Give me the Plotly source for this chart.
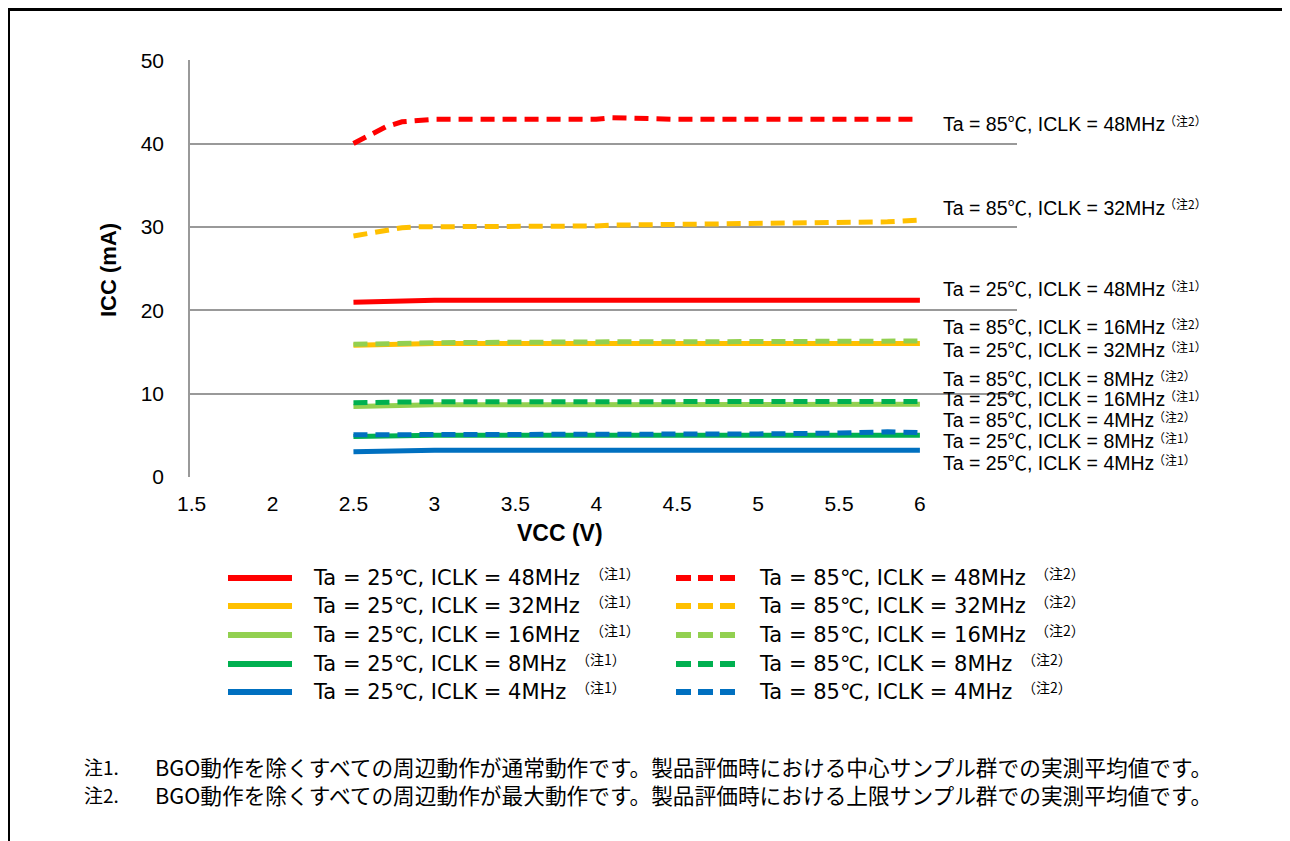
import plotly.graph_objects as go

# ---------------- data ----------------
vcc = [2.5, 2.6, 2.7, 2.8, 2.9, 3.0, 3.5, 4.0, 4.1, 4.5, 5.0, 5.5, 5.8, 6.0]

icc_25_48 = [20.95, 21.0, 21.1, 21.15, 21.2, 21.2, 21.2, 21.2, 21.2, 21.2, 21.2, 21.2, 21.2, 21.2]
icc_25_32 = [15.8, 15.85, 15.9, 15.95, 16.0, 16.0, 16.0, 16.0, 16.0, 16.0, 16.0, 16.0, 16.0, 16.0]
icc_25_16 = [8.45, 8.5, 8.55, 8.6, 8.65, 8.65, 8.65, 8.65, 8.65, 8.65, 8.7, 8.7, 8.7, 8.7]
icc_25_8 = [4.85, 4.9, 4.95, 5.0, 5.0, 5.0, 5.0, 5.0, 5.0, 5.0, 5.0, 5.0, 5.0, 5.0]
icc_25_4 = [3.0, 3.05, 3.1, 3.2, 3.2, 3.2, 3.2, 3.2, 3.2, 3.2, 3.2, 3.2, 3.2, 3.2]

icc_85_48 = [40.0, 41.0, 42.0, 42.6, 42.8, 42.9, 42.9, 42.9, 43.1, 42.9, 42.9, 42.9, 42.9, 42.9]
icc_85_32 = [28.9, 29.2, 29.6, 29.9, 30.0, 30.0, 30.1, 30.1, 30.2, 30.3, 30.3, 30.5, 30.6, 30.8]
icc_85_16 = [15.9, 15.9, 15.95, 16.0, 16.05, 16.1, 16.2, 16.2, 16.2, 16.2, 16.2, 16.2, 16.25, 16.3]
icc_85_8 = [8.9, 8.95, 9.0, 9.0, 9.0, 9.0, 9.0, 9.0, 9.0, 9.0, 9.0, 9.0, 9.0, 9.05]
icc_85_4 = [5.05, 5.05, 5.1, 5.1, 5.15, 5.15, 5.15, 5.15, 5.15, 5.15, 5.15, 5.25, 5.4, 5.3]

x_ticks = [1.5, 2, 2.5, 3, 3.5, 4, 4.5, 5, 5.5, 6]
x_ticktext = ["1.5", "2", "2.5", "3", "3.5", "4", "4.5", "5", "5.5", "6"]
y_ticks = [0, 10, 20, 30, 40, 50]

names_25 = ["Ta = 25℃, ICLK = 48MHz", "Ta = 25℃, ICLK = 32MHz", "Ta = 25℃, ICLK = 16MHz",
            "Ta = 25℃, ICLK = 8MHz", "Ta = 25℃, ICLK = 4MHz"]
names_85 = ["Ta = 85℃, ICLK = 48MHz", "Ta = 85℃, ICLK = 32MHz", "Ta = 85℃, ICLK = 16MHz",
            "Ta = 85℃, ICLK = 8MHz", "Ta = 85℃, ICLK = 4MHz"]
note_25 = "（注1）"
note_85 = "（注2）"
colors = ["#FF0000", "#FFC000", "#92D050", "#00B050", "#0070C0"]

series_25 = [icc_25_48, icc_25_32, icc_25_16, icc_25_8, icc_25_4]
series_85 = [icc_85_48, icc_85_32, icc_85_16, icc_85_8, icc_85_4]

footnotes = [("注1.", "BGO動作を除くすべての周辺動作が通常動作です。製品評価時における中心サンプル群での実測平均値です。"),
             ("注2.", "BGO動作を除くすべての周辺動作が最大動作です。製品評価時における上限サンプル群での実測平均値です。")]

# ---------------- layout helpers ----------------
# the page body adds an 8px offset; the figure is sized to fill the rest of the window
W, H = 1282, 833
ML, MR, MT, MB = 182, 273, 52, 364
PW, PH = W - ML - MR, H - MT - MB
PLOT_LEFT, PLOT_BOTTOM = 190, 477  # window pixel position of plot-area corner


def px(x):
    return (x - PLOT_LEFT) / PW


def py(y):
    return (PLOT_BOTTOM - y) / PH


FONT = "Liberation Sans, Arial, Noto Sans CJK JP, sans-serif"
WIDE = "DejaVu Sans, Liberation Sans, Noto Sans CJK JP, sans-serif"
CJK = "Noto Sans CJK JP, Liberation Sans, sans-serif"
DASH = "14px,8px"

fig = go.Figure()
for ys, c, n in zip(series_25, colors, names_25):
    fig.add_trace(go.Scatter(x=vcc, y=ys, mode="lines", name=n,
                             line=dict(color=c, width=5), showlegend=False, hoverinfo="skip"))
for ys, c, n in zip(series_85, colors, names_85):
    fig.add_trace(go.Scatter(x=vcc, y=ys, mode="lines", name=n,
                             line=dict(color=c, width=5, dash=DASH), showlegend=False, hoverinfo="skip"))

annotations = []
shapes = []


def text(t, x, y, size, family=FONT, xanchor="left", **kw):
    annotations.append(dict(text=t, x=px(x), y=py(y), xref="paper", yref="paper", showarrow=False,
                            font=dict(size=size, family=family, color="black"),
                            xanchor=xanchor, yanchor="middle", **kw))


# axis titles
text("<b>ICC (mA)</b>", 108, 270, 22, xanchor="center", textangle=-90)
text("<b>VCC (V)</b>", 560, 533, 23, xanchor="center")

# right-side line labels: (label, note, row y, note x)
label_rows = [
    (names_85[0], note_85, 124, 1162), (names_85[1], note_85, 208, 1162), (names_25[0], note_25, 289, 1162),
    (names_85[2], note_85, 327, 1162), (names_25[1], note_25, 350, 1162), (names_85[3], note_85, 379, 1151),
    (names_25[2], note_25, 399, 1162), (names_85[4], note_85, 420, 1151), (names_25[3], note_25, 441, 1151),
    (names_25[4], note_25, 463, 1151),
]
for txt, note, yy, nx in label_rows:
    text(txt, 941, yy, 19.5)
    text(note, nx, yy - 4, 12, family=CJK)

# manual legend
leg_rows = [578, 606, 635, 664, 692]
note_x_left = [588, 588, 588, 574, 574]
note_x_right = [1033, 1033, 1033, 1020, 1020]
for i, yy in enumerate(leg_rows):
    shapes.append(dict(type="line", xref="paper", yref="paper", x0=px(228), x1=px(292), y0=py(yy), y1=py(yy),
                       line=dict(color=colors[i], width=6)))
    shapes.append(dict(type="line", xref="paper", yref="paper", x0=px(676), x1=px(736), y0=py(yy), y1=py(yy),
                       line=dict(color=colors[i], width=6, dash="15px,7px")))
    text(names_25[i], 311, yy, 21, family=WIDE)
    text(note_25, note_x_left[i], yy - 5, 14, family=CJK)
    text(names_85[i], 757, yy, 21, family=WIDE)
    text(note_85, note_x_right[i], yy - 5, 14, family=CJK)

# footnotes
for (lab, txt), yy in zip(footnotes, [766, 794]):
    text(lab, 82, yy, 19, family=CJK)
    text(txt, 153, yy, 21.7, family=CJK)

# outer frame
shapes.append(dict(type="rect", xref="paper", yref="paper", x0=px(8.5), x1=px(1287), y0=py(9.5), y1=py(900),
                   line=dict(color="black", width=3), fillcolor="rgba(0,0,0,0)", layer="above"))

fig.update_layout(
    width=W, height=H,
    margin=dict(l=ML, r=MR, t=MT, b=MB, pad=0),
    paper_bgcolor="white", plot_bgcolor="white",
    showlegend=False,
    font=dict(family=FONT, color="black"),
    xaxis=dict(range=[1.49, 6.6], tickvals=x_ticks, ticktext=x_ticktext, showgrid=False, zeroline=False,
               showline=False, ticks="", ticklabelstandoff=12, tickfont=dict(size=21, color="black"),
               fixedrange=True),
    yaxis=dict(range=[-0.02, 50.02], tickvals=y_ticks, showgrid=True, gridcolor="#999999", gridwidth=1.5,
               showline=True, linecolor="#999999", linewidth=1.5, zeroline=False, ticks="",
               ticklabelstandoff=20, tickfont=dict(size=21, color="black"), fixedrange=True),
    annotations=annotations,
    shapes=shapes,
    hovermode=False,
)

fig.write_html("out.html", config={"displayModeBar": False})
